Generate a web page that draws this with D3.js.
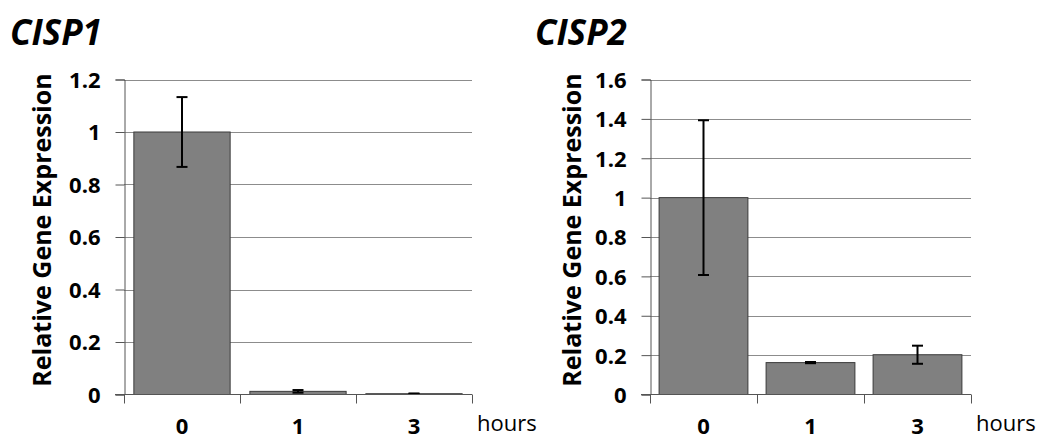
<!DOCTYPE html>
<html>
<head>
<meta charset="utf-8">
<script src="https://cdn.jsdelivr.net/npm/d3@7"></script>
<style>
  body { margin: 0; background: #fff; }
  svg text { font-family: "Open Sans", sans-serif; }
</style>
</head>
<body>
<div id="chart"></div>
<script>
var categories = ["0", "1", "3"];

var cisp1Values = [1.0, 0.012, 0.003];
var cisp1Errors = [0.133, 0.005, 0.001];
var cisp1Ticks = [0, 0.2, 0.4, 0.6, 0.8, 1, 1.2];

var cisp2Values = [1.0, 0.162, 0.202];
var cisp2Errors = [0.393, 0.003, 0.046];
var cisp2Ticks = [0, 0.2, 0.4, 0.6, 0.8, 1, 1.2, 1.4, 1.6];

var svg = d3.select("#chart")
    .append("svg")
    .attr("width", 1041)
    .attr("height", 439)

function panel(opts){
    var g = svg.append("g")

    var x = d3.scaleBand()
        .domain(categories)
        .range([opts.left, opts.right])
        .paddingInner(0.17)
        .paddingOuter(0.085)

    var y = d3.scaleLinear()
        .domain([0, opts.max])
        .range([394.5, 79.5])

    // gridlines
    g.selectAll(".grid")
        .data(opts.ticks.slice(1)).enter().append("line")
        .attr("x1", opts.left).attr("x2", opts.right)
        .attr("y1", function(d){ return Math.round(y(d)) + 0.5 })
        .attr("y2", function(d){ return Math.round(y(d)) + 0.5 })
        .attr("stroke", "#8c8c8c")
        .attr("stroke-width", 1)

    // bars
    g.selectAll(".bar")
        .data(opts.values).enter().append("rect")
        .attr("x", function(d, i){ return x(categories[i]) })
        .attr("width", x.bandwidth())
        .attr("y", function(d){ return y(d) })
        .attr("height", function(d){ return y(0) - y(d) })
        .attr("fill", "#808080")
        .attr("stroke", "#3a3a3a")
        .attr("stroke-width", 1)

    // error bars
    var eb = g.selectAll(".err")
        .data(opts.values).enter().append("g")
    eb.append("line")
        .attr("x1", function(d, i){ return x(categories[i]) + x.bandwidth() / 2 })
        .attr("x2", function(d, i){ return x(categories[i]) + x.bandwidth() / 2 })
        .attr("y1", function(d, i){ return y(d + opts.errors[i]) })
        .attr("y2", function(d, i){ return y(d - opts.errors[i]) })
        .attr("stroke", "#000").attr("stroke-width", 2)
    ;[1, -1].forEach(function(s){
        eb.append("line")
            .attr("x1", function(d, i){ return x(categories[i]) + x.bandwidth() / 2 - 5.5 })
            .attr("x2", function(d, i){ return x(categories[i]) + x.bandwidth() / 2 + 5.5 })
            .attr("y1", function(d, i){ return y(d + s * opts.errors[i]) })
            .attr("y2", function(d, i){ return y(d + s * opts.errors[i]) })
            .attr("stroke", "#000").attr("stroke-width", 2)
    })

    // y axis
    var yAxis = d3.axisLeft(y)
        .tickValues(opts.ticks)
        .tickSize(9)
        .tickPadding(15)
        .tickFormat(function(d){ return d3.format("")(+d.toFixed(1)) })
    var ya = g.append("g")
        .attr("transform", "translate(" + (Math.round(opts.left) + 0.5) + ",0)")
        .call(yAxis)
    ya.select(".domain").attr("stroke", "#555")
    ya.selectAll(".tick line").attr("stroke", "#555")
    ya.selectAll("text")
        .attr("fill", "#000")
        .style("font-size", "22px")
        .style("font-weight", "bold")
        .attr("dy", "0.36em")

    // x axis (category boundary ticks)
    var bounds = [0, 1, 2, 3].map(function(i){
        return opts.left + i * (opts.right - opts.left) / 3
    })
    g.append("line")
        .attr("x1", opts.left - 9).attr("x2", opts.right)
        .attr("y1", 394.5).attr("y2", 394.5)
        .attr("stroke", "#555")
    g.selectAll(".xtick")
        .data(bounds).enter().append("line")
        .attr("x1", function(d){ return Math.round(d) + 0.5 })
        .attr("x2", function(d){ return Math.round(d) + 0.5 })
        .attr("y1", 394.5).attr("y2", 403.5)
        .attr("stroke", "#555")

    g.selectAll(".xlab")
        .data(categories).enter().append("text")
        .attr("x", function(d){ return x(d) + x.bandwidth() / 2 })
        .attr("y", 434)
        .attr("text-anchor", "middle")
        .style("font-size", "22px")
        .style("font-weight", "bold")
        .text(function(d){ return d })

    g.append("text")
        .attr("x", opts.right + 5)
        .attr("y", 431)
        .style("font-size", "22px")
        .text("hours")

    // y title
    g.append("text")
        .attr("transform", "translate(" + opts.titleX + ",230) rotate(-90)")
        .attr("text-anchor", "middle")
        .attr("dy", "0.36em")
        .style("font-size", "25px")
        .style("font-weight", "bold")
        .text("Relative Gene Expression")

    // chart title
    g.append("text")
        .attr("x", opts.headX)
        .attr("y", 45)
        .style("font-size", "35px")
        .style("font-weight", "bold")
        .style("font-style", "italic")
        .text(opts.name)
}

panel({name: "CISP1", values: cisp1Values, errors: cisp1Errors, ticks: cisp1Ticks, max: 1.2,
       left: 124, right: 472, titleX: 42, headX: 10})
panel({name: "CISP2", values: cisp2Values, errors: cisp2Errors, ticks: cisp2Ticks, max: 1.6,
       left: 650, right: 971, titleX: 572, headX: 535})
</script>
</body>
</html>
